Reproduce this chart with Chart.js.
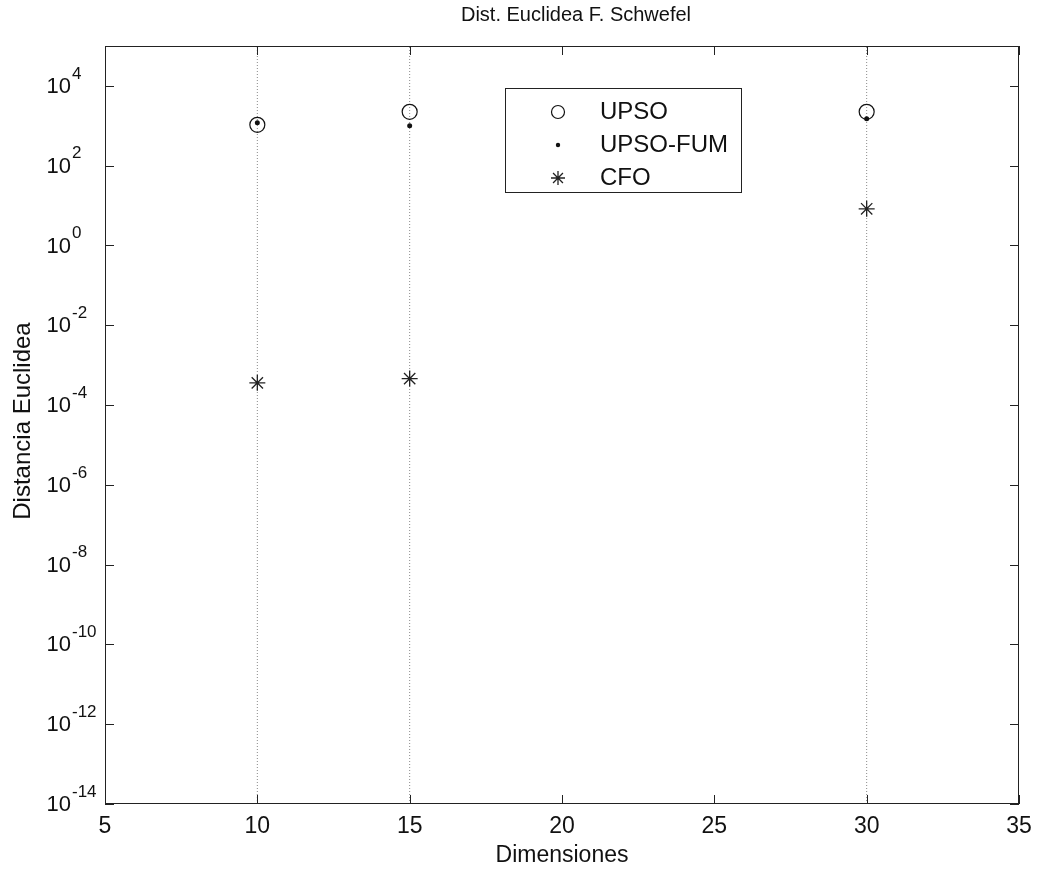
<!DOCTYPE html>
<html>
<head>
<meta charset="utf-8">
<title>Dist. Euclidea F. Schwefel</title>
<script src="https://cdn.jsdelivr.net/npm/chart.js@4/dist/chart.umd.min.js"></script>
<style>
    html, body { margin: 0; padding: 0; background: #fff; }
    #chart { display: block; }
</style>
</head>
<body>
<canvas id="chart" width="1037" height="869"></canvas>
<script>
// Dimensions tested and the euclidean distance reached by each algorithm
const dimensiones = [10, 15, 30];
const upso = [1060, 2240, 2240];
const upsoFum = [1200, 1000, 1500];
const cfo = [3.6e-4, 4.6e-4, 8.3];

// Axis ranges and ticks
const xMin = 5, xMax = 35;
const xTicks = [5, 10, 15, 20, 25, 30, 35];
const yMin = 1e-14, yMax = 1e5;
const yTickExps = [-14, -12, -10, -8, -6, -4, -2, 0, 2, 4];

const FONT = "'Liberation Sans', Arial, Helvetica, sans-serif";
const INK = "#111";

const points = (values) => dimensiones.map((d, i) => ({ x: d, y: values[i] }));

// dotted vertical guide at every tested dimension
const guides = dimensiones.map(d => ({
    type: "line",
    data: [{ x: d, y: yMin }, { x: d, y: yMax }],
    borderColor: "#8a8a8a",
    borderWidth: 1,
    borderDash: [1, 2],
    pointRadius: 0,
    order: 10
}));

const series = [
    { label: "UPSO", data: points(upso), pointStyle: "circle", pointRadius: 7.5,
      borderColor: INK, backgroundColor: "rgba(0,0,0,0)", borderWidth: 1.2, order: 3 },
    { label: "UPSO-FUM", data: points(upsoFum), pointStyle: "circle", pointRadius: 2.5,
      borderColor: INK, backgroundColor: INK, borderWidth: 0, order: 2 },
    { label: "CFO", data: points(cfo), pointStyle: "star", pointRadius: 8,
      borderColor: "#222", backgroundColor: "#222", borderWidth: 1.3, order: 1 }
];

// Frame, inward ticks, log labels, titles and the boxed legend
const matlabAxes = {
    id: "matlabAxes",
    afterDraw(chart) {
        const ctx = chart.ctx;
        const area = chart.chartArea;
        const xs = chart.scales.x;
        const ys = chart.scales.y;
        const tickLen = 9;

        ctx.save();
        ctx.strokeStyle = "#222";
        ctx.lineWidth = 1;
        ctx.strokeRect(area.left + 0.5, area.top + 0.5, area.right - area.left - 1, area.bottom - area.top - 1);

        ctx.fillStyle = INK;
        ctx.beginPath();
        xs.ticks.forEach(t => {
            const px = Math.round(xs.getPixelForValue(t.value)) + 0.5;
            ctx.moveTo(px, area.bottom);
            ctx.lineTo(px, area.bottom - tickLen);
            ctx.moveTo(px, area.top);
            ctx.lineTo(px, area.top + tickLen);
        });
        ys.ticks.forEach(t => {
            const py = Math.round(ys.getPixelForValue(t.value)) + 0.5;
            ctx.moveTo(area.left, py);
            ctx.lineTo(area.left + tickLen, py);
            ctx.moveTo(area.right, py);
            ctx.lineTo(area.right - tickLen, py);
        });
        ctx.stroke();

        // x tick labels
        ctx.font = "23px " + FONT;
        ctx.textAlign = "center";
        ctx.textBaseline = "middle";
        xs.ticks.forEach(t => {
            ctx.fillText(String(t.value), xs.getPixelForValue(t.value), area.bottom + 23);
        });

        // y tick labels: "10" at a fixed column, exponent trailing to the right
        ys.ticks.forEach(t => {
            const py = ys.getPixelForValue(t.value);
            const exp = Math.round(Math.log10(t.value));
            ctx.font = "22px " + FONT;
            ctx.textAlign = "right";
            ctx.textBaseline = "middle";
            ctx.fillText("10", 71, py + 1);
            ctx.font = "17px " + FONT;
            ctx.textAlign = "left";
            ctx.fillText(String(exp), 72, py - 12);
        });

        // titles
        ctx.textAlign = "center";
        ctx.textBaseline = "middle";
        ctx.font = "20px " + FONT;
        ctx.fillText("Dist. Euclidea F. Schwefel", 576, 15);
        ctx.font = "23px " + FONT;
        ctx.fillText("Dimensiones", (area.left + area.right) / 2, 856);
        ctx.save();
        ctx.translate(23, 421);
        ctx.rotate(-Math.PI / 2);
        ctx.font = "24px " + FONT;
        ctx.fillText("Distancia Euclidea", 0, 0);
        ctx.restore();

        // legend box
        const box = { x: 505, y: 88, w: 236, h: 104 };
        ctx.fillStyle = "#fff";
        ctx.fillRect(box.x, box.y, box.w, box.h);
        ctx.strokeStyle = "#222";
        ctx.lineWidth = 1;
        ctx.strokeRect(box.x + 0.5, box.y + 0.5, box.w, box.h);
        series.forEach((s, i) => {
            const ly = 112 + i * 33;
            ctx.strokeStyle = s.borderColor;
            ctx.fillStyle = s.backgroundColor;
            ctx.lineWidth = s.borderWidth || 1;
            Chart.helpers.drawPoint(ctx, {
                pointStyle: s.pointStyle,
                radius: s.pointStyle === "star" ? 7 : (s.pointRadius > 3 ? 6.5 : 2.2),
                borderWidth: s.borderWidth,
                rotation: 0
            }, 558, ly);
            ctx.fillStyle = INK;
            ctx.font = "24px " + FONT;
            ctx.textAlign = "left";
            ctx.textBaseline = "middle";
            ctx.fillText(s.label, 600, ly);
        });
        ctx.restore();
    }
};

new Chart(document.getElementById("chart"), {
    type: "scatter",
    data: { datasets: [...guides, ...series] },
    options: {
        responsive: false,
        animation: false,
        devicePixelRatio: 1,
        layout: { padding: { left: 105, top: 46, right: 18, bottom: 65 } },
        plugins: { legend: { display: false }, tooltip: { enabled: false } },
        scales: {
            x: {
                type: "linear", min: xMin, max: xMax, display: false,
                afterBuildTicks: (scale) => { scale.ticks = xTicks.map(v => ({ value: v })); }
            },
            y: {
                type: "logarithmic", min: yMin, max: yMax, display: false,
                afterBuildTicks: (scale) => { scale.ticks = yTickExps.map(e => ({ value: Math.pow(10, e) })); }
            }
        }
    },
    plugins: [matlabAxes]
});
</script>
</body>
</html>
